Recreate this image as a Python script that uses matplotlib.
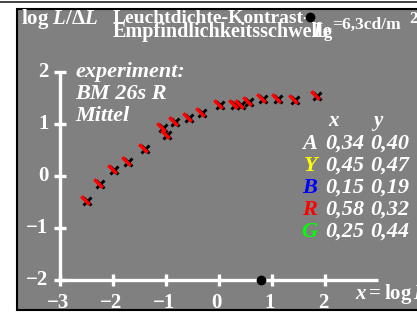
import matplotlib
matplotlib.use("Agg")
import matplotlib.pyplot as plt
from matplotlib.patches import Rectangle
from matplotlib.lines import Line2D
from matplotlib.path import Path
import matplotlib.transforms as mtransforms

# data
log_L = [-2.51, -2.26, -2.00, -1.74, -1.41, -1.08, -1.00, -0.85, -0.59,
         -0.34, 0.00, 0.28, 0.40, 0.55, 0.81, 1.09, 1.42, 1.83]
log_contrast = [-0.48, -0.15, 0.12, 0.27, 0.52, 0.94, 0.79, 1.04, 1.12,
                1.23, 1.37, 1.38, 1.38, 1.44, 1.50, 1.50, 1.48, 1.54]
x_ticks = [-3, -2, -1, 0, 1, 2]
y_ticks = [-2, -1, 0, 1, 2]
Lg_log = 0.8

table_names = ["A", "Y", "B", "R", "G"]
table_colors = ["white", "#ffff00", "#0000ff", "#ff0000", "#00ff00"]
table_x = ["0,34", "0,45", "0,15", "0,58", "0,25"]
table_y = ["0,40", "0,47", "0,19", "0,32", "0,44"]
experiment_lines = ["experiment:", "BM 26s R", "Mittel"]

plt.rcParams.update({
    "font.family": "Liberation Serif",
    "font.weight": "bold",
    "mathtext.fontset": "custom",
    "mathtext.rm": "Liberation Serif:bold",
    "mathtext.it": "Liberation Serif:italic:bold",
    "mathtext.bf": "Liberation Serif:bold",
})

W, H = 417, 313
fig = plt.figure(figsize=(W / 100, H / 100), dpi=100)
fig.patch.set_facecolor("white")

ax = fig.add_axes([0, 0, 1, 1])
ax.set_xlim(-219 / 53, (W - 219) / 53)
ax.set_ylim((176 - H) / 52, 176 / 52)
ax.axis("off")

# gray panel with black frame
ax.add_patch(Rectangle((17 / W, 3 / H), 1 - 17 / W + 0.01, 301 / H,
                       transform=ax.transAxes, facecolor="#808080",
                       edgecolor="black", linewidth=1.5, zorder=0))
ax.add_line(Line2D([0, 1], [1 - 1.5 / H, 1 - 1.5 / H],
                   transform=ax.transAxes, color="#222222", lw=1.2))

# axes lines
ax.plot([-3, 3], [-2, -2], color="white", lw=2.4, solid_capstyle="butt")
ax.plot([-3, -3], [-2, 2], color="white", lw=2.4, solid_capstyle="butt")
ax.plot(x_ticks, [-2] * len(x_ticks), ls="none", marker="|", ms=8,
        mew=2.4, color="white")
ax.plot([-3] * len(y_ticks), y_ticks, ls="none", marker="_", ms=8,
        mew=2.4, color="white")

for xt in x_ticks:
    lab = str(xt).replace("-", "\u2212")
    ax.text(xt - 0.04, -2.53, lab, ha="center", va="baseline",
            color="white", fontsize=15)
for yt in y_ticks:
    lab = str(yt).replace("-", "\u2212")
    ax.text(-3.22, yt, lab, ha="right", va="center", color="white",
            fontsize=15)

ax.text((355 - 219) / 53, (176 - 299) / 52, r"$x\mathrm{=log}\,L$",
        ha="left", va="baseline", color="white", fontsize=15)

# data markers: black cross with red diagonal on top
slash = Path([(-1, 1), (1, -1)], [Path.MOVETO, Path.LINETO])
bshift = mtransforms.ScaledTranslation(1 / 100, -0.5 / 100,
                                       fig.dpi_scale_trans)
ax.plot(log_L, log_contrast, ls="none", marker="x", ms=5.5, mew=2.1,
        color="black", zorder=4, transform=ax.transData + bshift)
rshift = mtransforms.ScaledTranslation(-1 / 100, 0.5 / 100,
                                       fig.dpi_scale_trans)
ax.plot(log_L, log_contrast, ls="none", marker=slash, ms=6, mew=2.5,
        color="#ff0000", zorder=5, transform=ax.transData + rshift)

# adaptation luminance markers
ax.plot([Lg_log], [-2], ls="none", marker="o", ms=6, color="black", zorder=6)
ax.plot([(310 - 219) / 53], [(176 - 17) / 52], ls="none", marker="o", ms=6,
        color="black", zorder=6)


def py(p):
    return (176 - p) / 52


def px(p):
    return (p - 219) / 53


# title
ax.text(px(21), py(24), r"log $L/\Delta L$", color="white", fontsize=15,
        va="baseline")
ax.text(px(113), py(23), "Leuchtdichte-Kontrast-", color="white",
        fontsize=14, va="baseline")
ax.text(px(113), py(37), "Empfindlichkeitsschwelle", color="white",
        fontsize=14.5, va="baseline")
ax.text(px(312), py(37), r"$L$", color="white", fontsize=16,
        va="baseline", zorder=7)
ax.text(px(324), py(37), "g", color="white", fontsize=12,
        va="baseline", zorder=7)
ax.text(px(332), py(29), "=6,3cd/m", color="white", fontsize=12.5,
        va="baseline", zorder=7)
ax.text(px(409), py(23), "2", color="white", fontsize=12, va="baseline",
        zorder=7)

# experiment note
for i, line in enumerate(experiment_lines):
    ax.text(px(75), py(77 + 22 * i), line, color="white", fontsize=16,
            style="italic", va="baseline")

# chromaticity table
ax.text(px(328), py(126), "x", color="white", fontsize=15, style="italic",
        va="baseline")
ax.text(px(373), py(126), "y", color="white", fontsize=15, style="italic",
        va="baseline")
for i, (nm, col, xv, yv) in enumerate(zip(table_names, table_colors,
                                          table_x, table_y)):
    yb = py(149 + 22 * i)
    ax.text(px(317), yb, nm, color=col, fontsize=16, style="italic",
            ha="right", va="baseline")
    ax.text(px(325), yb, xv, color="white", fontsize=16, style="italic",
            va="baseline")
    ax.text(px(370), yb, yv, color="white", fontsize=16, style="italic",
            va="baseline")

fig.savefig("out.png", dpi=100)
